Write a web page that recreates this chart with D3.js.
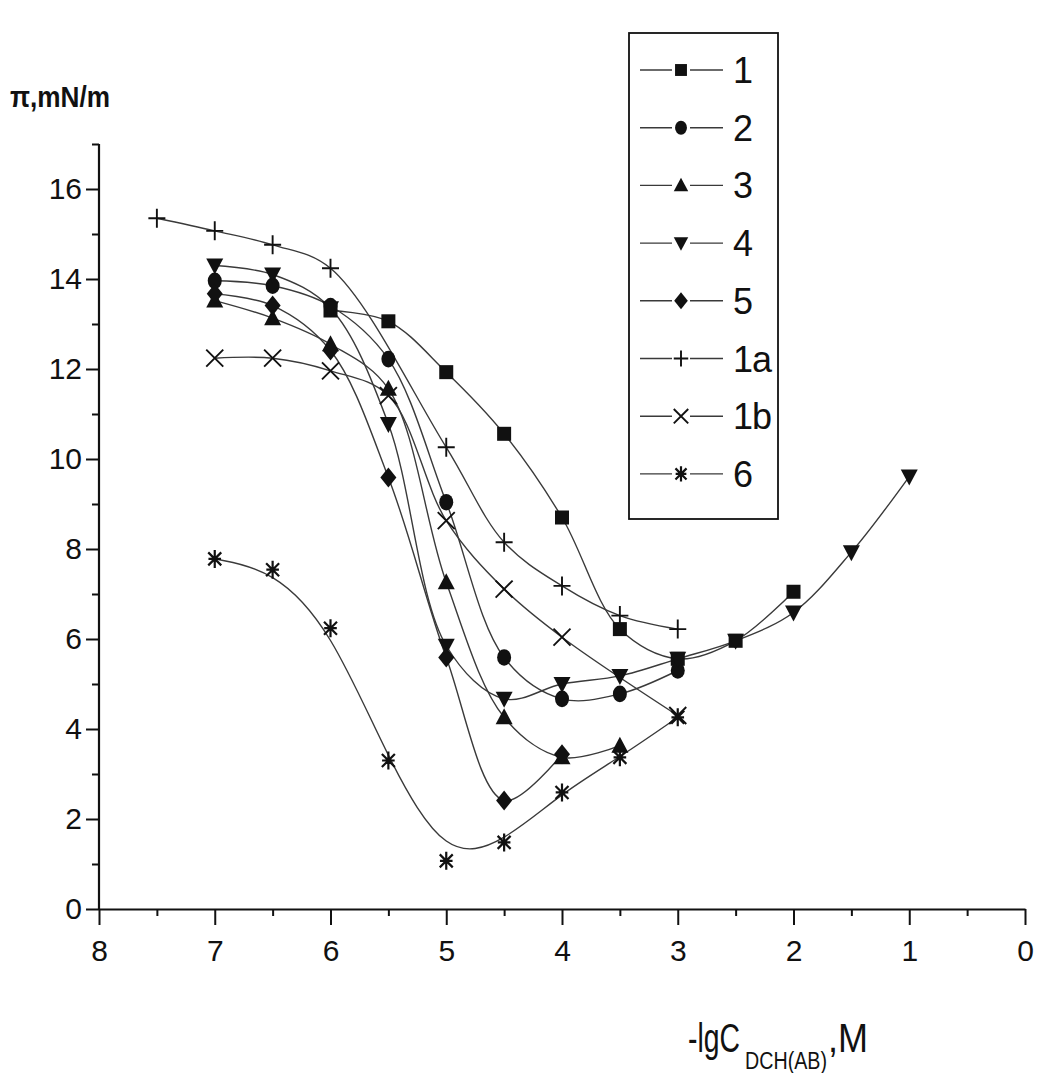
<!DOCTYPE html>
<html>
<head>
<meta charset="utf-8">
<script src="https://cdn.jsdelivr.net/npm/d3@7"></script>
<style>
  html, body { margin: 0; padding: 0; background: #fff; }
  svg { display: block; }
  text { font-family: "Liberation Sans", Arial, sans-serif; fill: #111; }
</style>
</head>
<body>
<svg id="chart" width="1043" height="1073"></svg>
<script>
// Surface pressure vs. -lg concentration, eight measured series
const seriesNames = ["1", "2", "3", "4", "5", "1a", "1b", "6"];
const seriesMarkers = ["square", "circle", "triUp", "triDown", "diamond", "plus", "cross", "star"];

const x1 = [6.0, 5.5, 5.0, 4.5, 4.0, 3.5, 3.0, 2.5, 2.0];
const y1 = [13.3, 13.06, 11.93, 10.56, 8.70, 6.22, 5.56, 5.96, 7.05];

const x2 = [7.0, 6.5, 6.0, 5.5, 5.0, 4.5, 4.0, 3.5, 3.0];
const y2 = [13.96, 13.85, 13.40, 12.22, 9.04, 5.59, 4.67, 4.78, 5.30];

const x3 = [7.0, 6.5, 6.0, 5.5, 5.0, 4.5, 4.0, 3.5];
const y3 = [13.52, 13.13, 12.55, 11.56, 7.26, 4.26, 3.37, 3.63];

const x4 = [7.0, 6.5, 6.0, 5.5, 5.0, 4.5, 4.0, 3.5, 3.0, 2.5, 2.0, 1.5, 1.0];
const y4 = [14.30, 14.10, 13.35, 10.78, 5.85, 4.67, 5.00, 5.18, 5.56, 5.96, 6.59, 7.93, 9.61];

const x5 = [7.0, 6.5, 6.0, 5.5, 5.0, 4.5, 4.0];
const y5 = [13.67, 13.41, 12.41, 9.59, 5.59, 2.41, 3.44];

const x1a = [7.5, 7.0, 6.5, 6.0, 5.0, 4.5, 4.0, 3.5, 3.0];
const y1a = [15.35, 15.07, 14.76, 14.24, 10.26, 8.15, 7.18, 6.52, 6.22];

const x1b = [7.0, 6.5, 6.0, 5.5, 5.0, 4.5, 4.0, 3.0];
const y1b = [12.24, 12.24, 11.96, 11.41, 8.63, 7.11, 6.04, 4.30];

const x6 = [7.0, 6.5, 6.0, 5.5, 5.0, 4.5, 4.0, 3.5, 3.0];
const y6 = [7.78, 7.54, 6.24, 3.30, 1.07, 1.48, 2.59, 3.37, 4.26];

const xTicks = [8, 7, 6, 5, 4, 3, 2, 1, 0];
const xMinorTicks = [7.5, 6.5, 5.5, 4.5, 3.5, 2.5, 1.5, 0.5];
const yTicks = [0, 2, 4, 6, 8, 10, 12, 14, 16];
const yMinorTicks = [1, 3, 5, 7, 9, 11, 13, 15, 17];

const xs = [x1, x2, x3, x4, x5, x1a, x1b, x6];
const ys = [y1, y2, y3, y4, y5, y1a, y1b, y6];

const series = seriesNames.map((name, i) => ({
  name,
  marker: seriesMarkers[i],
  points: xs[i].map((xv, j) => ({ x: xv, y: ys[i][j] }))
}));

const svg = d3.select("#chart");
const x = d3.scaleLinear().domain([8, 0]).range([99, 1025]);
const y = d3.scaleLinear().domain([0, 17]).range([909, 144]);

// ---- axes ----
const axisColor = "#111";
function styleAxis(g) {
  g.selectAll("path.domain").attr("stroke", axisColor).attr("stroke-width", 2.2);
  g.selectAll(".tick line").attr("stroke", axisColor).attr("stroke-width", 2);
  g.selectAll(".tick text")
    .style("font-family", "'Liberation Sans', Arial, sans-serif")
    .attr("font-size", 30).attr("fill", "#111");
}

const gxMinor = svg.append("g").attr("transform", `translate(0,${y(0)})`)
  .call(d3.axisBottom(x).tickValues(xMinorTicks).tickSize(7).tickSizeOuter(0).tickFormat(""));
gxMinor.select("path.domain").remove();
gxMinor.selectAll(".tick line").attr("stroke", axisColor).attr("stroke-width", 2);

const gx = svg.append("g").attr("transform", `translate(0,${y(0)})`)
  .call(d3.axisBottom(x).tickValues(xTicks).tickSize(16).tickPadding(15).tickSizeOuter(0).tickFormat(d3.format("d")));
styleAxis(gx);

const gyMinor = svg.append("g").attr("transform", `translate(${x(8)},0)`)
  .call(d3.axisLeft(y).tickValues(yMinorTicks).tickSize(7).tickSizeOuter(0).tickFormat(""));
gyMinor.select("path.domain").remove();
gyMinor.selectAll(".tick line").attr("stroke", axisColor).attr("stroke-width", 2);

const gy = svg.append("g").attr("transform", `translate(${x(8)},0)`)
  .call(d3.axisLeft(y).tickValues(yTicks).tickSize(13).tickPadding(4).tickSizeOuter(0).tickFormat(d3.format("d")));
styleAxis(gy);
// vertical axis runs up to the top minor tick
gy.select("path.domain").attr("d", `M0,${y(17)}V${y(0)}`);

// ---- axis titles ----
svg.append("text")
  .attr("x", 10).attr("y", 107)
  .attr("font-size", 30).attr("font-weight", "bold")
  .attr("textLength", 100).attr("lengthAdjust", "spacingAndGlyphs")
  .text("π,mN/m");

svg.append("text")
  .attr("x", 688).attr("y", 1052)
  .attr("font-size", 41)
  .attr("textLength", 52).attr("lengthAdjust", "spacingAndGlyphs")
  .text("-lgC");
svg.append("text")
  .attr("x", 745).attr("y", 1069)
  .attr("font-size", 23)
  .attr("textLength", 82).attr("lengthAdjust", "spacingAndGlyphs")
  .text("DCH(AB)");
svg.append("text")
  .attr("x", 828).attr("y", 1052)
  .attr("font-size", 41)
  .attr("textLength", 40).attr("lengthAdjust", "spacingAndGlyphs")
  .text(",M");

// ---- markers ----
function drawMarker(g, type, s) {
  const k = s || 1;
  const fill = "#111";
  if (type === "square") {
    g.append("rect").attr("x", -7 * k).attr("y", -7 * k)
      .attr("width", 14 * k).attr("height", 14 * k).attr("fill", fill);
  } else if (type === "circle") {
    g.append("ellipse").attr("rx", 7 * k).attr("ry", 8.3 * k).attr("fill", fill);
  } else if (type === "triUp") {
    g.append("path").attr("d", `M0,${-9 * k}L${8.5 * k},${7 * k}L${-8.5 * k},${7 * k}Z`).attr("fill", fill);
  } else if (type === "triDown") {
    g.append("path").attr("d", `M0,${9 * k}L${8.5 * k},${-7 * k}L${-8.5 * k},${-7 * k}Z`).attr("fill", fill);
  } else if (type === "diamond") {
    g.append("path").attr("d", `M0,${-10 * k}L${8 * k},0L0,${10 * k}L${-8 * k},0Z`).attr("fill", fill);
  } else if (type === "plus") {
    g.append("path").attr("d", `M${-8.5 * k},0H${8.5 * k}M0,${-9.5 * k}V${9.5 * k}`)
      .attr("stroke", fill).attr("stroke-width", 1.9).attr("fill", "none");
  } else if (type === "cross") {
    g.append("path").attr("d", `M${-8.5 * k},${-8.5 * k}L${8.5 * k},${8.5 * k}M${8.5 * k},${-8.5 * k}L${-8.5 * k},${8.5 * k}`)
      .attr("stroke", fill).attr("stroke-width", 1.9).attr("fill", "none");
  } else if (type === "star") {
    const r = 9 * k, d = 6.5 * k;
    g.append("path").attr("d", `M0,${-r}V${r}M${-r * 0.7},0H${r * 0.7}M${-d},${-d}L${d},${d}M${d},${-d}L${-d},${d}`)
      .attr("stroke", fill).attr("stroke-width", 2.2).attr("fill", "none");
  }
}

// ---- curves ----
const smooth = d3.line().x(d => x(d.x)).y(d => y(d.y)).curve(d3.curveCatmullRom.alpha(0.5));
const basis = d3.line().x(d => x(d.x)).y(d => y(d.y)).curve(d3.curveBasis);

const plot = svg.append("g");
series.forEach(s => {
  plot.append("path")
    .attr("d", (s.name === "6" ? basis : smooth)(s.points))
    .attr("fill", "none").attr("stroke", "#3a3a3a").attr("stroke-width", 1.4);
});
series.forEach(s => {
  const g = plot.append("g");
  s.points.forEach(p => {
    const m = g.append("g").attr("transform", `translate(${x(p.x)},${y(p.y)})`);
    drawMarker(m, s.marker, 1);
  });
});

// ---- legend ----
const legend = svg.append("g");
legend.append("rect")
  .attr("x", 629).attr("y", 33).attr("width", 149).attr("height", 486)
  .attr("fill", "#fff").attr("stroke", "#111").attr("stroke-width", 1.8);
series.forEach((s, i) => {
  const cy = 70 + i * 57.7;
  legend.append("line").attr("x1", 640).attr("x2", 723).attr("y1", cy).attr("y2", cy)
    .attr("stroke", "#3a3a3a").attr("stroke-width", 1.4);
  const m = legend.append("g").attr("transform", `translate(681,${cy})`);
  m.append("rect").attr("x", -9).attr("y", -10).attr("width", 18).attr("height", 20).attr("fill", "#fff");
  drawMarker(m, s.marker, 0.85);
  legend.append("text").attr("x", 733).attr("y", cy + 13)
    .attr("font-size", 36).attr("letter-spacing", -1).text(s.name);
});
</script>
</body>
</html>
